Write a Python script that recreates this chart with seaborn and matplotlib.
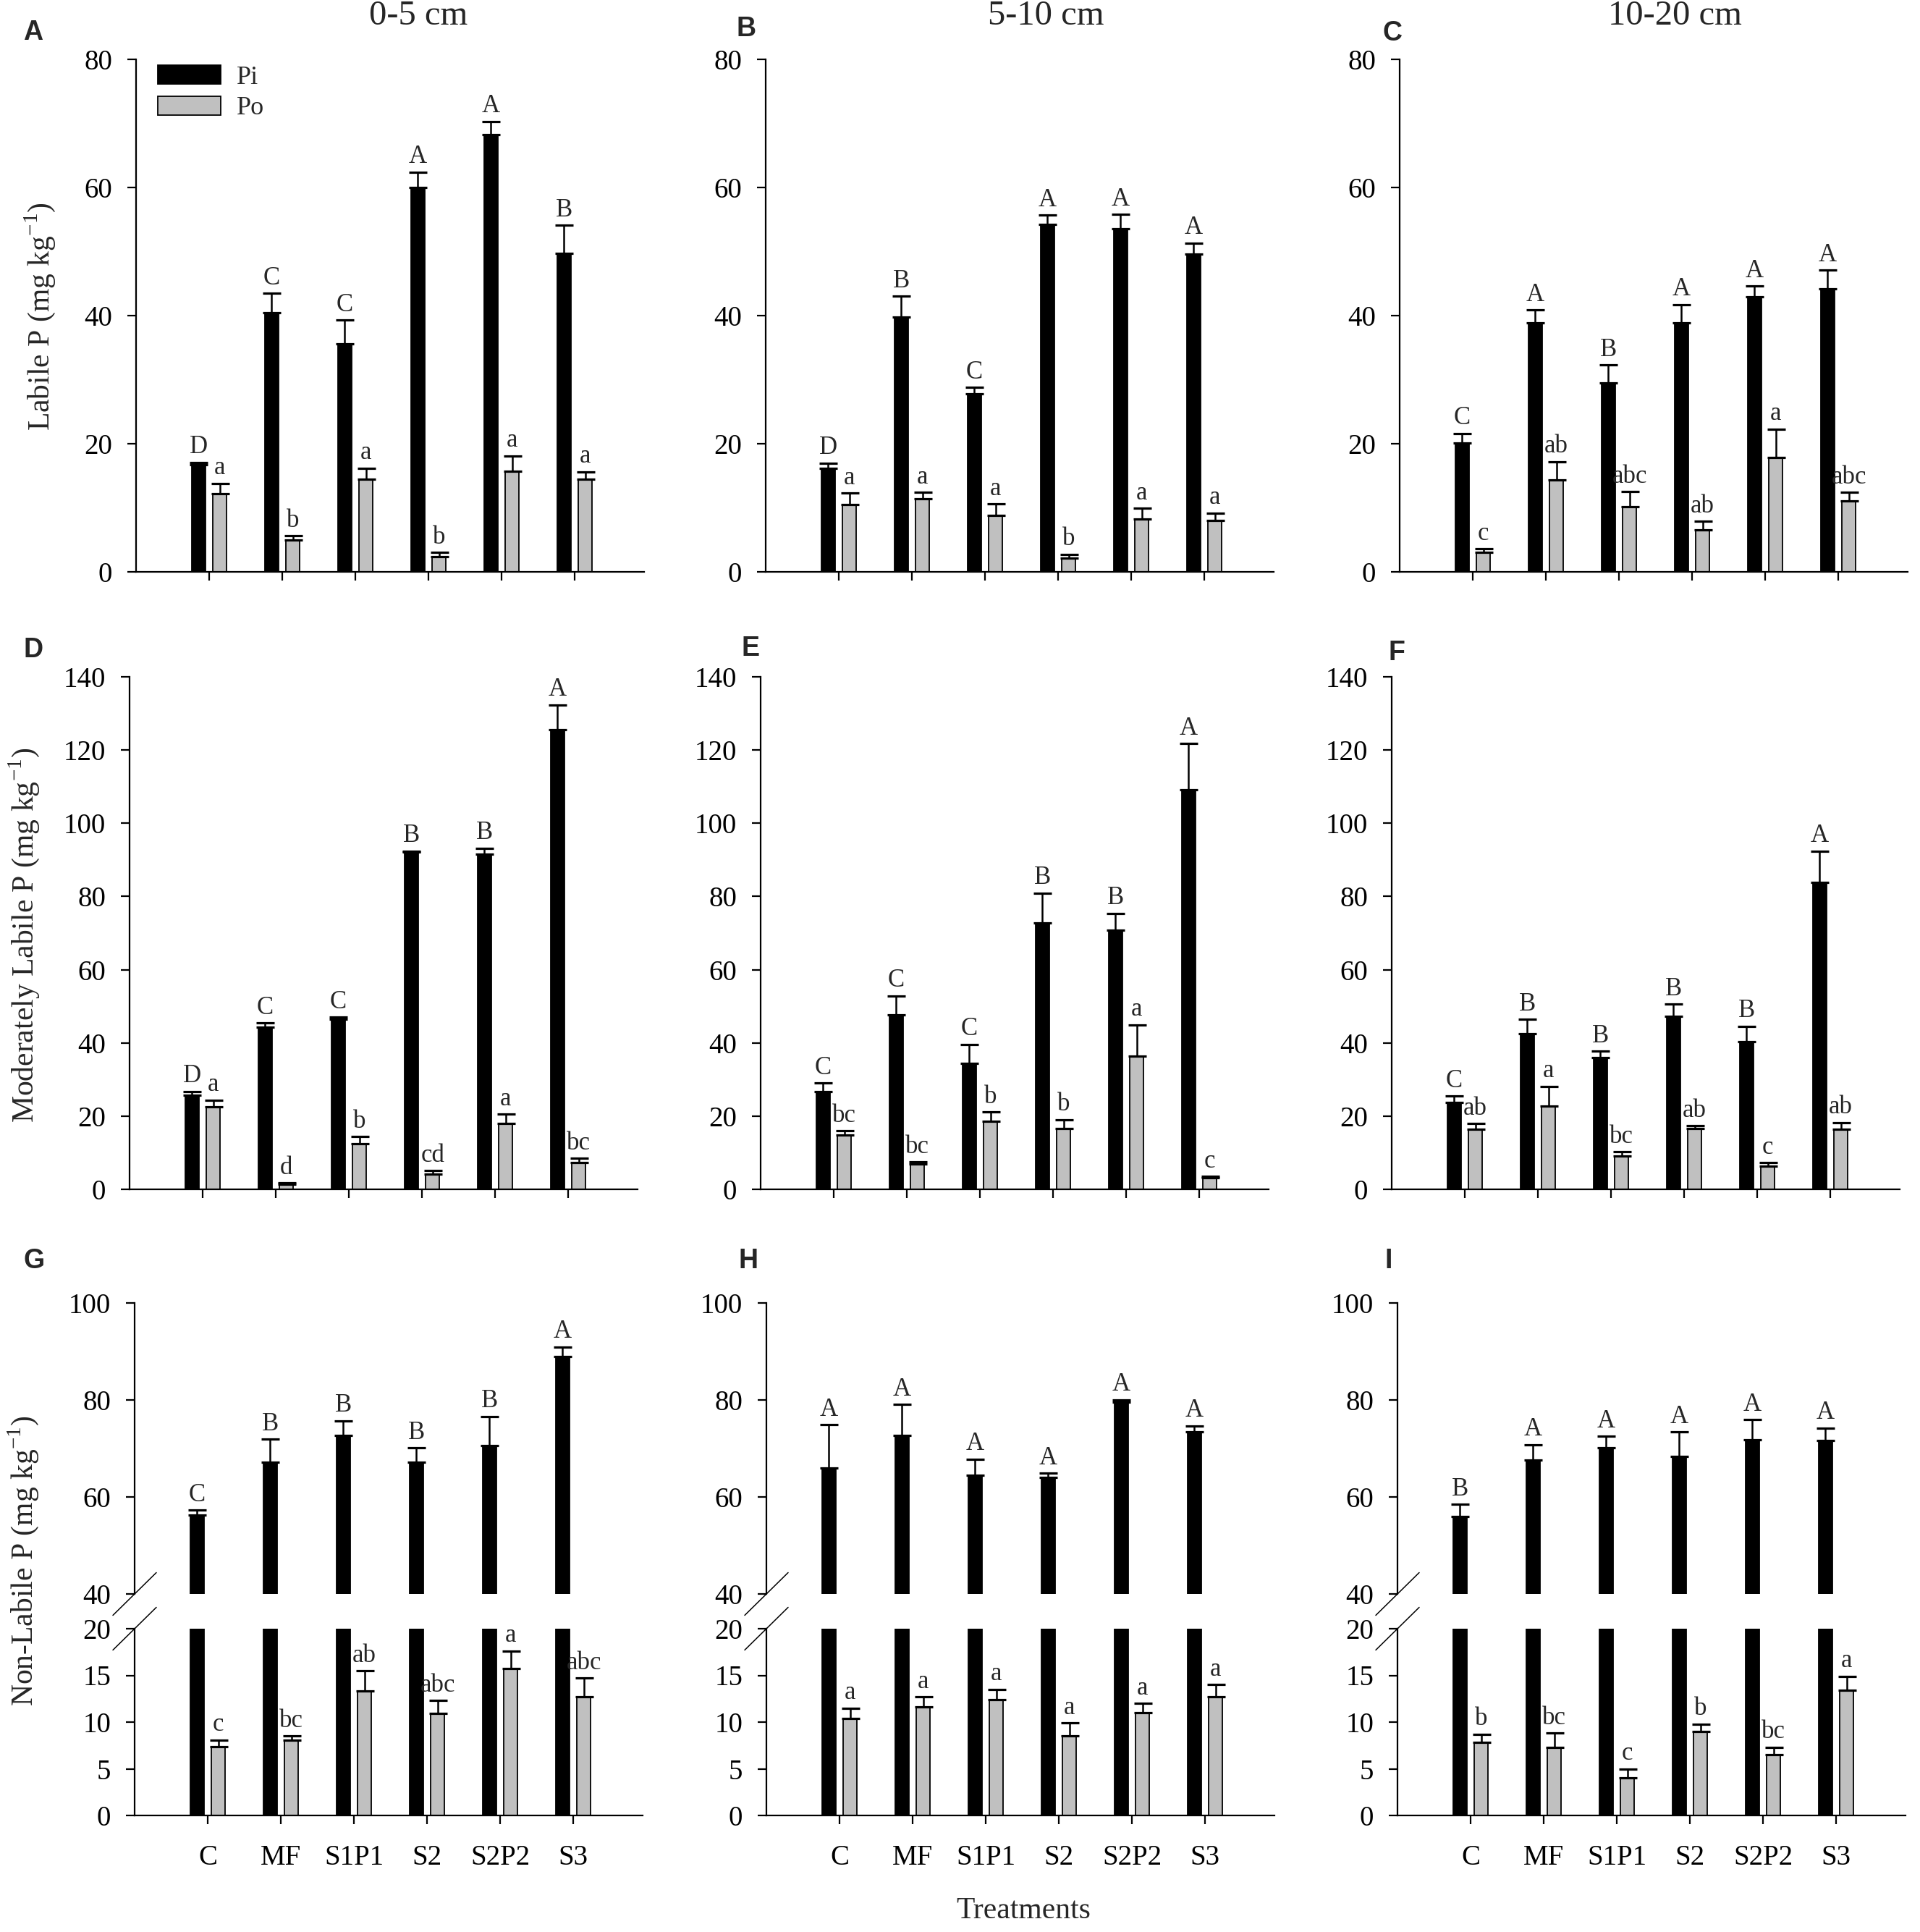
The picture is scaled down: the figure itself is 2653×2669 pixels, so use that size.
import numpy as np
import pandas as pd
import matplotlib
matplotlib.use("Agg")
import matplotlib.pyplot as plt
import seaborn as sns

# ---------------- data ----------------
treatments = ["C", "MF", "S1P1", "S2", "S2P2", "S3"]
forms = ["Pi", "Po"]
depths = ["0-5 cm", "5-10 cm", "10-20 cm"]

# Row 1: Labile P
pi_A = [16.7, 40.5, 35.6, 60.0, 68.2, 49.7]
pi_se_A = [0.4, 3.0, 3.7, 2.4, 2.1, 4.4]
po_A = [12.2, 5.0, 14.5, 2.4, 15.7, 14.5]
po_se_A = [1.6, 0.6, 1.7, 0.6, 2.4, 1.1]
let_pi_A = ["D", "C", "C", "A", "A", "B"]
let_po_A = ["a", "b", "a", "b", "a", "a"]

pi_B = [16.2, 39.8, 27.8, 54.2, 53.6, 49.6]
pi_se_B = [0.8, 3.2, 1.0, 1.5, 2.2, 1.7]
po_B = [10.5, 11.4, 8.8, 2.2, 8.3, 8.0]
po_se_B = [1.8, 1.0, 1.8, 0.55, 1.6, 1.2]
let_pi_B = ["D", "B", "C", "A", "A", "A"]
let_po_B = ["a", "a", "a", "b", "a", "a"]

pi_C = [20.1, 38.9, 29.5, 38.9, 42.9, 44.2]
pi_se_C = [1.5, 2.0, 2.8, 2.8, 1.7, 2.9]
po_C = [3.0, 14.4, 10.2, 6.5, 17.8, 11.1]
po_se_C = [0.6, 2.8, 2.3, 1.4, 4.5, 1.3]
let_pi_C = ["C", "A", "B", "A", "A", "A"]
let_po_C = ["c", "ab", "abc", "ab", "a", "abc"]

# Row 2: Moderately labile P
pi_D = [25.7, 44.2, 46.5, 92.1, 91.6, 125.5]
pi_se_D = [1.0, 1.2, 0.5, 0.3, 1.6, 6.8]
po_D = [22.5, 1.4, 12.5, 4.2, 17.9, 7.3]
po_se_D = [1.9, 0.3, 1.9, 0.9, 2.6, 1.2]
let_pi_D = ["D", "C", "C", "B", "B", "A"]
let_po_D = ["a", "d", "b", "cd", "a", "bc"]

pi_E = [26.6, 47.6, 34.5, 72.8, 70.7, 109.1]
pi_se_E = [2.4, 5.2, 5.1, 8.1, 4.7, 12.7]
po_E = [14.9, 6.9, 18.5, 16.6, 36.3, 3.2]
po_se_E = [1.1, 0.6, 2.6, 2.4, 8.6, 0.3]
let_pi_E = ["C", "C", "C", "B", "B", "A"]
let_po_E = ["bc", "bc", "b", "b", "a", "c"]

pi_F = [23.8, 42.6, 35.9, 47.3, 40.4, 83.8]
pi_se_F = [1.7, 3.8, 1.8, 3.3, 4.1, 8.6]
po_F = [16.5, 22.8, 9.1, 16.6, 6.4, 16.5]
po_se_F = [1.4, 5.3, 1.1, 0.8, 0.9, 1.7]
let_pi_F = ["C", "B", "B", "B", "B", "A"]
let_po_F = ["ab", "a", "bc", "ab", "c", "ab"]

# Row 3: Non-labile P
pi_G = [56.3, 67.1, 72.7, 67.1, 70.6, 88.9]
pi_se_G = [1.0, 4.8, 3.0, 3.0, 6.0, 2.0]
po_G = [7.4, 8.05, 13.3, 10.9, 15.7, 12.7]
po_se_G = [0.7, 0.45, 2.2, 1.4, 1.9, 2.0]
let_pi_G = ["C", "B", "B", "B", "B", "A"]
let_po_G = ["c", "bc", "ab", "abc", "a", "abc"]

pi_H = [66.0, 72.7, 64.5, 64.1, 79.5, 73.4]
pi_se_H = [8.9, 6.4, 3.3, 0.8, 0.5, 1.3]
po_H = [10.4, 11.6, 12.4, 8.5, 11.0, 12.7]
po_se_H = [1.1, 1.1, 1.1, 1.4, 1.0, 1.3]
let_pi_H = ["A", "A", "A", "A", "A", "A"]
let_po_H = ["a", "a", "a", "a", "a", "a"]

pi_I = [55.9, 67.6, 70.2, 68.4, 71.8, 71.7]
pi_se_I = [2.6, 3.2, 2.3, 5.0, 4.1, 2.5]
po_I = [7.8, 7.3, 4.0, 9.0, 6.5, 13.4]
po_se_I = [0.9, 1.5, 1.0, 0.8, 0.8, 1.5]
let_pi_I = ["B", "A", "A", "A", "A", "A"]
let_po_I = ["b", "bc", "c", "b", "bc", "a"]

panels = [
    [("A", pi_A, pi_se_A, po_A, po_se_A, let_pi_A, let_po_A),
     ("B", pi_B, pi_se_B, po_B, po_se_B, let_pi_B, let_po_B),
     ("C", pi_C, pi_se_C, po_C, po_se_C, let_pi_C, let_po_C)],
    [("D", pi_D, pi_se_D, po_D, po_se_D, let_pi_D, let_po_D),
     ("E", pi_E, pi_se_E, po_E, po_se_E, let_pi_E, let_po_E),
     ("F", pi_F, pi_se_F, po_F, po_se_F, let_pi_F, let_po_F)],
    [("G", pi_G, pi_se_G, po_G, po_se_G, let_pi_G, let_po_G),
     ("H", pi_H, pi_se_H, po_H, po_se_H, let_pi_H, let_po_H),
     ("I", pi_I, pi_se_I, po_I, po_se_I, let_pi_I, let_po_I)],
]
row_ylabels = [r"Labile P (mg kg$^{\mathregular{-1}}$)",
               r"Moderately Labile P (mg kg$^{\mathregular{-1}}$)",
               r"Non-Labile P (mg kg$^{\mathregular{-1}}$)"]
form_colors = {"Pi": "black", "Po": "#c0c0c0"}

# ---------------- style ----------------
sns.set_style("ticks")
plt.rcParams["font.family"] = ["Liberation Serif", "DejaVu Serif"]
plt.rcParams["axes.edgecolor"] = "black"
plt.rcParams["xtick.color"] = "black"
plt.rcParams["ytick.color"] = "black"

W, H = 2653, 2669
fig = plt.figure(figsize=(W / 100, H / 100), dpi=100)


def rect(left, top, width, height):
    return [left / W, 1 - (top + height) / H, width / W, height / H]


AX_W = 702
col_lefts = [[188, 1058, 1934], [179, 1051, 1923], [186, 1059, 1931]]
row_spans = [(82, 790), (935, 1643)]
row3_upper = (1800, 2202)
row3_lower = (2250, 2508)

TICK_FS = 28
LET_FS = 25


def make_df(pi, pi_se, po, po_se, lp, lo):
    rows = []
    for t, v, s, l in zip(treatments, pi, pi_se, lp):
        rows.append(dict(Treatment=t, Form="Pi", Value=v, SE=s, Letter=l))
    for t, v, s, l in zip(treatments, po, po_se, lo):
        rows.append(dict(Treatment=t, Form="Po", Value=v, SE=s, Letter=l))
    return pd.DataFrame(rows)


def style(ax):
    for s in ["top", "right"]:
        ax.spines[s].set_visible(False)
    ax.spines["left"].set_linewidth(1.6)
    ax.spines["bottom"].set_linewidth(1.6)
    ax.tick_params(axis="both", direction="out", length=8.5, width=1.6,
                   labelsize=TICK_FS)
    ax.tick_params(axis="y", pad=15)
    ax.tick_params(axis="x", pad=20)
    ax.set_xlim(-1.0, 5.95)
    ax.set_xlabel("")
    ax.set_ylabel("")


def draw(ax, df, legend=False, err_forms=("Pi", "Po"), let_forms=("Pi", "Po")):
    sns.barplot(data=df, x="Treatment", y="Value", hue="Form", order=treatments,
                hue_order=forms, palette=form_colors, width=0.58, gap=0.345,
                edgecolor="black", linewidth=1.3, errorbar=None, legend=legend,
                ax=ax, zorder=2)
    bar_conts = list(ax.containers)[:2]
    for cont, form in zip(bar_conts, forms):
        sub = df[df.Form == form].set_index("Treatment")
        xs, ys, es, ls = [], [], [], []
        for b in cont:
            xc = b.get_x() + b.get_width() / 2
            t = treatments[int(round(xc))]
            xs.append(xc)
            ys.append(sub.loc[t, "Value"])
            es.append(sub.loc[t, "SE"])
            ls.append(sub.loc[t, "Letter"])
        if form in err_forms:
            ax.errorbar(xs, ys, yerr=[np.zeros(len(xs)), es], fmt="none",
                        ecolor="black", elinewidth=1.8, capsize=9, capthick=2.3,
                        zorder=3)
        if form in let_forms:
            for x, y, e, l in zip(xs, ys, es, ls):
                ax.annotate(l, (x, y + e), xytext=(0, 9), textcoords="offset points",
                            ha="center", va="baseline", fontsize=LET_FS)


for r in range(2):
    top, bot = row_spans[r]
    for c in range(3):
        name, pi, pi_se, po, po_se, lp, lo = panels[r][c]
        df = make_df(pi, pi_se, po, po_se, lp, lo)
        ax = fig.add_axes(rect(col_lefts[r][c], top, AX_W, bot - top))
        draw(ax, df, legend=(name == "A"))
        style(ax)
        if r == 0:
            ax.set_ylim(0, 80)
            ax.set_yticks(np.arange(0, 81, 20))
        else:
            ax.set_ylim(0, 140)
            ax.set_yticks(np.arange(0, 141, 20))
        ax.set_xticklabels([])
        if name == "A":
            leg = ax.get_legend()
            handles = leg.legend_handles
            labels = [t.get_text() for t in leg.get_texts()]
            leg.remove()
            ax.legend(handles, labels, loc="upper left", bbox_to_anchor=(0.043, 0.989),
                      frameon=False, fontsize=26, handlelength=2.4, handleheight=0.75,
                      handletextpad=0.6, labelspacing=0.25, borderpad=0,
                      borderaxespad=0)

# bottom row with broken axes
for c in range(3):
    name, pi, pi_se, po, po_se, lp, lo = panels[2][c]
    df = make_df(pi, pi_se, po, po_se, lp, lo)
    left = col_lefts[2][c]
    axu = fig.add_axes(rect(left, row3_upper[0], AX_W, row3_upper[1] - row3_upper[0]))
    axl = fig.add_axes(rect(left, row3_lower[0], AX_W, row3_lower[1] - row3_lower[0]))
    draw(axu, df, err_forms=("Pi",), let_forms=("Pi",))
    draw(axl, df, err_forms=("Po",), let_forms=("Po",))
    style(axu)
    style(axl)
    axu.set_ylim(40, 100)
    axu.set_yticks([40, 60, 80, 100])
    axu.spines["bottom"].set_visible(False)
    axu.tick_params(axis="x", bottom=False, labelbottom=False)
    axl.set_ylim(0, 20)
    axl.set_yticks([0, 5, 10, 15, 20])
    axl.set_xticks(range(len(treatments)))
    axl.set_xticklabels(treatments)
    # break marks
    uh = row3_upper[1] - row3_upper[0]
    lh = row3_lower[1] - row3_lower[0]
    dx = 30 / AX_W
    axu.plot([-dx, dx], [-29.5 / uh, 29.5 / uh], transform=axu.transAxes,
             color="black", lw=1.1, clip_on=False)
    axl.plot([-dx, dx], [1 - 29.5 / lh, 1 + 29.5 / lh], transform=axl.transAxes,
             color="black", lw=1.1, clip_on=False)

# titles
for x, t in zip([578, 1445, 2314], depths):
    fig.text(x / W, 1 - 22 / H, t, ha="center", va="center", fontsize=35)

# panel letters
letter_pos = {"A": (46, 45), "B": (1031, 40), "C": (1924, 46),
              "D": (46, 898), "E": (1037, 896), "F": (1930, 902),
              "G": (47, 1742), "H": (1034, 1742), "I": (1919, 1742)}
for k, (x, y) in letter_pos.items():
    fig.text(x / W, 1 - y / H, k, ha="center", va="center", fontsize=27,
             fontweight="bold", family=["Liberation Sans", "DejaVu Sans"])

# y labels
for (x, y), lab in zip([(55, 437), (33, 1292), (32, 2156)], row_ylabels):
    fig.text(x / W, 1 - y / H, lab, ha="center", va="center", rotation=90,
             fontsize=30)

fig.text(1414 / W, 1 - 2640 / H, "Treatments", ha="center", va="center", fontsize=30)

fig.savefig("out.png", dpi=100, facecolor="white")
